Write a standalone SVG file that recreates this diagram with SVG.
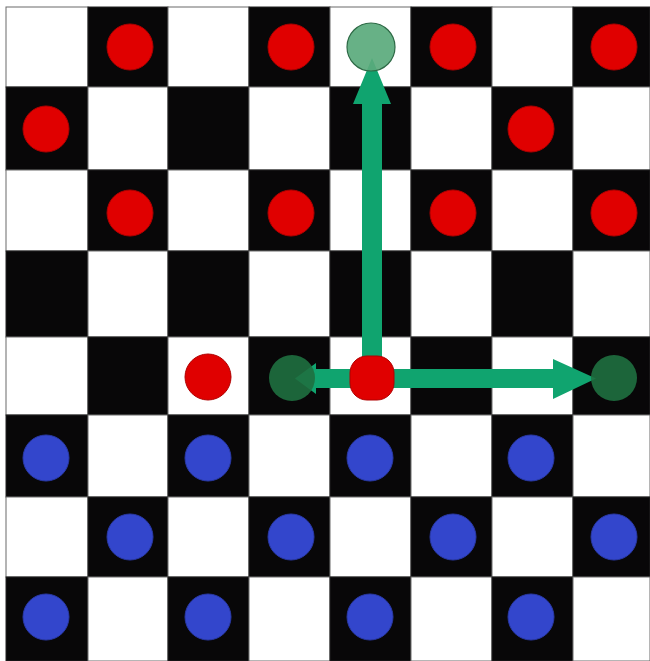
<svg xmlns="http://www.w3.org/2000/svg" width="650" height="661" viewBox="0 0 650 661">
<style>
.w{fill:#ffffff;stroke:#6a6a6a;stroke-width:1}
.b{fill:#080708;stroke:#222;stroke-width:1}
.red{fill:#e00000;stroke:#b00000;stroke-width:1}
.blue{fill:#3346cc;stroke:#2a3aa8;stroke-width:1}
.dg{fill:#1f7040;fill-opacity:0.9}
.lg{fill:#5aaa7c;fill-opacity:0.92;stroke:#2e6a46;stroke-width:1.2}
.arrow{fill:#10a46f}
</style>
<rect width="650" height="661" fill="#ffffff"/>
<g id="board">
<!-- row 0 y 7-87 -->
<rect class="w" x="6" y="7" width="82" height="80"/><rect class="b" x="88" y="7" width="80" height="80"/><rect class="w" x="168" y="7" width="81" height="80"/><rect class="b" x="249" y="7" width="81" height="80"/><rect class="w" x="330" y="7" width="81" height="80"/><rect class="b" x="411" y="7" width="81" height="80"/><rect class="w" x="492" y="7" width="81" height="80"/><rect class="b" x="573" y="7" width="77" height="80"/>
<!-- row 1 y 87-170 -->
<rect class="b" x="6" y="87" width="82" height="83"/><rect class="w" x="88" y="87" width="80" height="83"/><rect class="b" x="168" y="87" width="81" height="83"/><rect class="w" x="249" y="87" width="81" height="83"/><rect class="b" x="330" y="87" width="81" height="83"/><rect class="w" x="411" y="87" width="81" height="83"/><rect class="b" x="492" y="87" width="81" height="83"/><rect class="w" x="573" y="87" width="77" height="83"/>
<!-- row 2 y 170-251 -->
<rect class="w" x="6" y="170" width="82" height="81"/><rect class="b" x="88" y="170" width="80" height="81"/><rect class="w" x="168" y="170" width="81" height="81"/><rect class="b" x="249" y="170" width="81" height="81"/><rect class="w" x="330" y="170" width="81" height="81"/><rect class="b" x="411" y="170" width="81" height="81"/><rect class="w" x="492" y="170" width="81" height="81"/><rect class="b" x="573" y="170" width="77" height="81"/>
<!-- row 3 y 251-337 -->
<rect class="b" x="6" y="251" width="82" height="86"/><rect class="w" x="88" y="251" width="80" height="86"/><rect class="b" x="168" y="251" width="81" height="86"/><rect class="w" x="249" y="251" width="81" height="86"/><rect class="b" x="330" y="251" width="81" height="86"/><rect class="w" x="411" y="251" width="81" height="86"/><rect class="b" x="492" y="251" width="81" height="86"/><rect class="w" x="573" y="251" width="77" height="86"/>
<!-- row 4 y 337-415 -->
<rect class="w" x="6" y="337" width="82" height="78"/><rect class="b" x="88" y="337" width="80" height="78"/><rect class="w" x="168" y="337" width="81" height="78"/><rect class="b" x="249" y="337" width="81" height="78"/><rect class="w" x="330" y="337" width="81" height="78"/><rect class="b" x="411" y="337" width="81" height="78"/><rect class="w" x="492" y="337" width="81" height="78"/><rect class="b" x="573" y="337" width="77" height="78"/>
<!-- row 5 y 415-497 -->
<rect class="b" x="6" y="415" width="82" height="82"/><rect class="w" x="88" y="415" width="80" height="82"/><rect class="b" x="168" y="415" width="81" height="82"/><rect class="w" x="249" y="415" width="81" height="82"/><rect class="b" x="330" y="415" width="81" height="82"/><rect class="w" x="411" y="415" width="81" height="82"/><rect class="b" x="492" y="415" width="81" height="82"/><rect class="w" x="573" y="415" width="77" height="82"/>
<!-- row 6 y 497-577 -->
<rect class="w" x="6" y="497" width="82" height="80"/><rect class="b" x="88" y="497" width="80" height="80"/><rect class="w" x="168" y="497" width="81" height="80"/><rect class="b" x="249" y="497" width="81" height="80"/><rect class="w" x="330" y="497" width="81" height="80"/><rect class="b" x="411" y="497" width="81" height="80"/><rect class="w" x="492" y="497" width="81" height="80"/><rect class="b" x="573" y="497" width="77" height="80"/>
<!-- row 7 y 577-661 -->
<rect class="b" x="6" y="577" width="82" height="84"/><rect class="w" x="88" y="577" width="80" height="84"/><rect class="b" x="168" y="577" width="81" height="84"/><rect class="w" x="249" y="577" width="81" height="84"/><rect class="b" x="330" y="577" width="81" height="84"/><rect class="w" x="411" y="577" width="81" height="84"/><rect class="b" x="492" y="577" width="81" height="84"/><rect class="w" x="573" y="577" width="77" height="84"/>
</g>
<g id="connectors">
<polygon class="arrow" points="362,378 362,104 353,104 372,58 391,104 382,104 382,378"/>
<polygon class="arrow" points="372,369 553,369 553,359 596,378.5 553,399 553,388 372,388"/>
<polygon class="arrow" points="372,369 316,369 316,363 295,378.5 316,394 316,388 372,388"/>
</g>
<g id="red-pieces">
<circle id="r1" class="red" cx="130" cy="47" r="23"/>
<circle id="r2" class="red" cx="291" cy="47" r="23"/>
<circle id="r3" class="red" cx="453" cy="47" r="23"/>
<circle id="r4" class="red" cx="614" cy="47" r="23"/>
<circle id="r5" class="red" cx="46" cy="129" r="23"/>
<circle id="r6" class="red" cx="531" cy="129" r="23"/>
<circle id="r7" class="red" cx="130" cy="213" r="23"/>
<circle id="r8" class="red" cx="291" cy="213" r="23"/>
<circle id="r9" class="red" cx="453" cy="213" r="23"/>
<circle id="r10" class="red" cx="614" cy="213" r="23"/>
<circle id="r11" class="red" cx="208" cy="377" r="23"/>
<rect id="r12" class="red" x="350" y="356" width="44" height="44" rx="17" ry="17"/>
</g>
<g id="target-pieces">
<circle id="g-up" class="lg" cx="371" cy="47" r="24"/>
<circle id="g-left" class="dg" cx="292" cy="378" r="23"/>
<circle id="g-right" class="dg" cx="614" cy="378" r="23"/>
</g>
<g id="blue-pieces">
<circle id="b1" class="blue" cx="46" cy="458" r="23"/>
<circle id="b2" class="blue" cx="208" cy="458" r="23"/>
<circle id="b3" class="blue" cx="370" cy="458" r="23"/>
<circle id="b4" class="blue" cx="531" cy="458" r="23"/>
<circle id="b5" class="blue" cx="130" cy="537" r="23"/>
<circle id="b6" class="blue" cx="291" cy="537" r="23"/>
<circle id="b7" class="blue" cx="453" cy="537" r="23"/>
<circle id="b8" class="blue" cx="614" cy="537" r="23"/>
<circle id="b9" class="blue" cx="46" cy="617" r="23"/>
<circle id="b10" class="blue" cx="208" cy="617" r="23"/>
<circle id="b11" class="blue" cx="370" cy="617" r="23"/>
<circle id="b12" class="blue" cx="531" cy="617" r="23"/>
</g>
</svg>
